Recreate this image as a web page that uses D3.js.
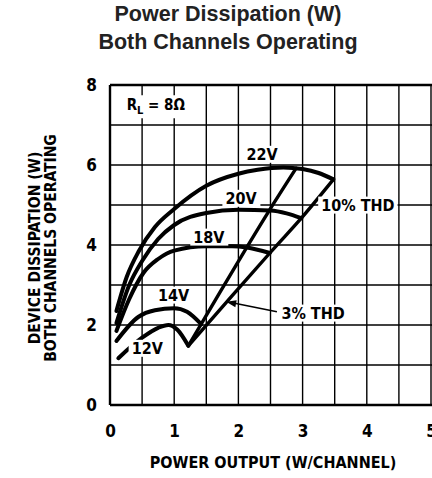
<!DOCTYPE html>
<html><head><meta charset="utf-8">
<script src="https://cdn.jsdelivr.net/npm/d3@7"></script>
<style>
html,body{margin:0;padding:0;background:#fff;}
svg{display:block;}
</style></head>
<body>
<svg id="chart" width="432" height="478"></svg>
<script>
// ---- data ----
const titleLines = ["Power Dissipation (W)", "Both Channels Operating"];
const xTicks = [0, 1, 2, 3, 4, 5];
const yTicks = [0, 2, 4, 6, 8];
const xGrid = [0, 0.5, 1, 1.5, 2, 2.5, 3, 3.5, 4, 4.5, 5];
const yGrid = [0, 1, 2, 3, 4, 5, 6, 7, 8];
const xLabel = "POWER OUTPUT (W/CHANNEL)";
const yLabelLines = ["DEVICE DISSIPATION (W)", "BOTH CHANNELS OPERATING"];

const supplies = ["22V", "20V", "18V", "14V", "12V"];
const v22 = [[0.1,2.35],[0.26,3.2],[0.45,3.85],[0.7,4.45],[1.0,4.9],[1.5,5.48],[2.0,5.78],[2.3,5.88],[2.7,5.94],[3.0,5.9],[3.25,5.8],[3.48,5.64]];
const v20 = [[0.1,2.05],[0.3,3.0],[0.5,3.6],[0.75,4.15],[1.0,4.5],[1.5,4.8],[2.0,4.88],[2.5,4.86],[2.75,4.79],[2.98,4.67]];
const v18 = [[0.1,1.85],[0.3,2.65],[0.52,3.3],[0.75,3.65],[1.0,3.86],[1.5,3.97],[1.9,3.97],[2.13,3.94],[2.49,3.8]];
const v14 = [[0.1,1.6],[0.44,2.2],[0.7,2.37],[1.0,2.42],[1.2,2.33],[1.42,2.02]];
const v12 = [[0.13,1.17],[0.49,1.67],[0.75,1.93],[0.91,2.0],[1.05,1.88],[1.22,1.48]];
const thd3 = [[1.22,1.48],[2.13,3.94],[2.48,4.86],[2.9,5.92]];
const thd10 = [[1.22,1.48],[2.49,3.8],[2.98,4.67],[3.48,5.64]];
const curveLabels = [["22V",2.37,6.27],["20V",2.04,5.17],["18V",1.54,4.2],["14V",0.99,2.75],["12V",0.58,1.42]];
const loadLabel = "8Ω";

// ---- layout ----
const svg = d3.select("#chart");
const x = d3.scaleLinear().domain([0, 5]).range([110, 431]);
const y = d3.scaleLinear().domain([0, 8]).range([405, 85]);
const cond = "'Liberation Sans Narrow','DejaVu Sans Condensed','Arial Narrow',sans-serif";

// title
svg.append("g").selectAll("text").data(titleLines).join("text")
  .attr("x", 228).attr("y", (d,i) => 21 + i*28)
  .attr("text-anchor", "middle")
  .style("font-family", "'Liberation Sans',Arial,sans-serif")
  .style("font-weight", "bold").style("font-size", "21.5px").style("fill", "#222")
  .text(d => d);

// grid
const g = svg.append("g");
g.selectAll("line.vx").data(xGrid).join("line")
  .attr("x1", d => x(d)).attr("x2", d => x(d))
  .attr("y1", y(0)).attr("y2", y(8))
  .attr("stroke", "#000").attr("stroke-width", d => d === 0 ? 2.4 : 1.4);
g.selectAll("line.hy").data(yGrid).join("line")
  .attr("x1", x(0)).attr("x2", 432)
  .attr("y1", d => y(d)).attr("y2", d => y(d))
  .attr("stroke", "#000").attr("stroke-width", d => (d === 0 || d === 8) ? 2.4 : 1.4);

// axes tick labels
const xAxis = d3.axisBottom(x).tickValues(xTicks).tickSize(0).tickPadding(20).tickFormat(d3.format("d"));
const xa = svg.append("g").attr("transform", `translate(0,${y(0)})`).call(xAxis);
xa.select(".domain").remove();
xa.selectAll("text").style("font-family", cond).style("font-weight", "bold").style("font-size", "17px").attr("fill", "#000");
const yAxis = d3.axisLeft(y).tickValues(yTicks).tickSize(0).tickPadding(13).tickFormat(d3.format("d"));
const ya = svg.append("g").attr("transform", `translate(${x(0)},0)`).call(yAxis);
ya.select(".domain").remove();
ya.selectAll("text").style("font-family", cond).style("font-weight", "bold").style("font-size", "17px").attr("fill", "#000");

// axis titles
svg.append("text").attr("x", 273).attr("y", 468).attr("text-anchor", "middle")
  .style("font-family", cond).style("font-weight", "bold").style("font-size", "16px")
  .text(xLabel);
svg.append("g").attr("transform", "translate(40,248) rotate(-90)")
  .selectAll("text").data(yLabelLines).join("text")
  .attr("x", 0).attr("y", (d,i) => i*16)
  .attr("text-anchor", "middle")
  .style("font-family", cond).style("font-weight", "bold").style("font-size", "15.5px")
  .text(d => d);

// curves
const line = d3.line().x(d => x(d[0])).y(d => y(d[1])).curve(d3.curveMonotoneX);
const straight = d3.line().x(d => x(d[0])).y(d => y(d[1])).curve(d3.curveCatmullRom.alpha(0.5));
const curves = [v22, v20, v18, v14, v12];
svg.append("g").selectAll("path").data(curves).join("path")
  .attr("d", line).attr("fill", "none").attr("stroke", "#000")
  .attr("stroke-width", 4).attr("stroke-linecap", "round").attr("stroke-linejoin", "round");
svg.append("g").selectAll("path").data([thd3, thd10]).join("path")
  .attr("d", straight).attr("fill", "none").attr("stroke", "#000")
  .attr("stroke-width", 3.4).attr("stroke-linecap", "round").attr("stroke-linejoin", "round");

// labels with white background
function boxedLabel(parent, txt, cx, cy, size, anchor) {
  const grp = parent.append("g");
  const t = grp.append("text").attr("x", cx).attr("y", cy).attr("dy", "0.35em")
    .attr("text-anchor", anchor || "middle")
    .style("font-family", cond).style("font-weight", "bold").style("font-size", size + "px")
    .text(txt);
  const bb = t.node().getBBox();
  grp.insert("rect", "text").attr("x", bb.x - 3).attr("y", bb.y + 1)
    .attr("width", bb.width + 6).attr("height", bb.height - 2).attr("fill", "#fff");
  return grp;
}
const lab = svg.append("g");
curveLabels.forEach(d => boxedLabel(lab, d[0], x(d[1]), y(d[2]), 16));
boxedLabel(lab, "10% THD", x(3.29), y(5.0), 16, "start");
// 3% THD arrow
const arrowFrom = [2.6, 2.33], arrowTo = [1.81, 2.58];
lab.append("line").attr("x1", x(arrowFrom[0])).attr("y1", y(arrowFrom[1]))
  .attr("x2", x(arrowTo[0]) + 6).attr("y2", y(arrowTo[1]) + 1)
  .attr("stroke", "#000").attr("stroke-width", 1.5);
const ax = x(arrowTo[0]), ay = y(arrowTo[1]);
const ang = Math.atan2(y(arrowFrom[1]) - ay, x(arrowFrom[0]) - ax);
const hl = 10, hw = 3.5;
lab.append("path").attr("d", `M${ax},${ay} L${ax + hl*Math.cos(ang) - hw*Math.sin(ang)},${ay + hl*Math.sin(ang) + hw*Math.cos(ang)} L${ax + hl*Math.cos(ang) + hw*Math.sin(ang)},${ay + hl*Math.sin(ang) - hw*Math.cos(ang)} Z`)
  .attr("fill", "#000");
boxedLabel(lab, "3% THD", x(2.67), y(2.3), 16, "start");

// R_L = 8Ω
const rg = lab.append("g");
const rt = rg.append("text").attr("x", x(0.26)).attr("y", y(7.5)).attr("dy", "0.35em")
  .style("font-family", cond).style("font-weight", "bold").style("font-size", "15px");
rt.append("tspan").text("R");
rt.append("tspan").attr("dy", "4").style("font-size", "11px").text("L");
rt.append("tspan").attr("dy", "-4").text("  =  " + loadLabel);
const rbb = rt.node().getBBox();
rg.insert("rect", "text").attr("x", rbb.x - 4).attr("y", rbb.y - 1)
  .attr("width", rbb.width + 8).attr("height", rbb.height + 2).attr("fill", "#fff");
</script>
</body></html>
